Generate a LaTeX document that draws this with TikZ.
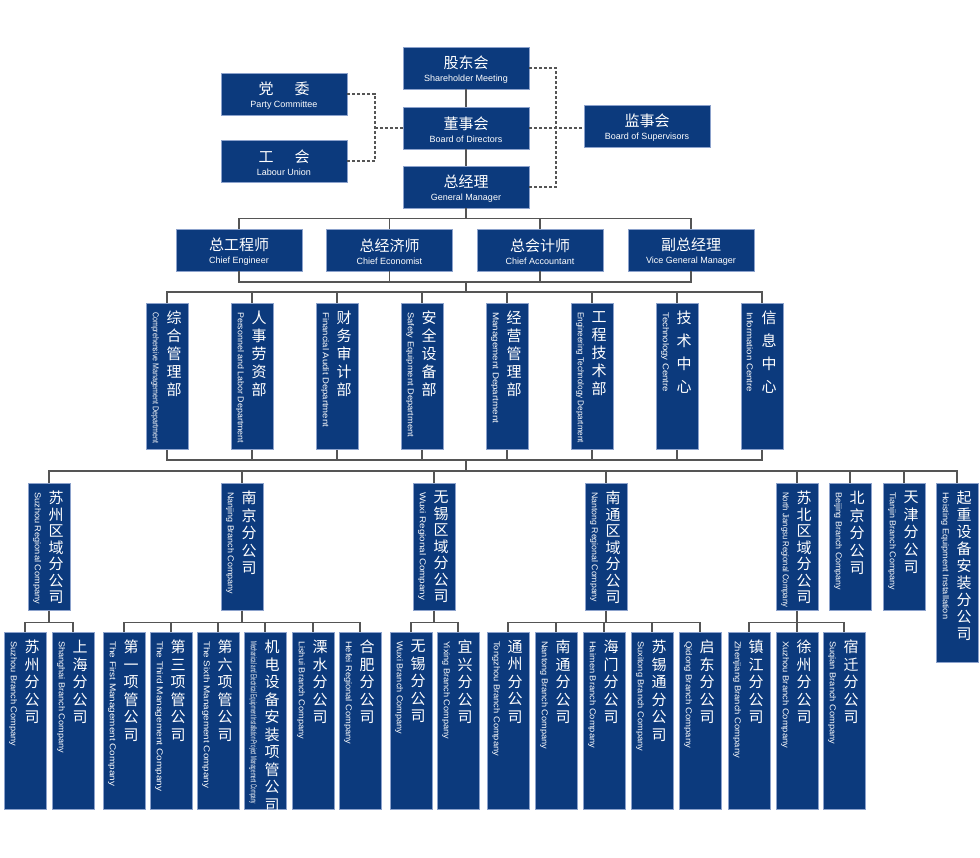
\documentclass[tikz,border=0pt]{standalone}
\usepackage{fontspec}
\usepackage{graphicx}
\setmainfont{Liberation Sans}
\newfontfamily\cjk{Noto Sans CJK SC}
\XeTeXlinebreaklocale "zh"
\XeTeXlinebreakskip=0pt plus 1pt
\usetikzlibrary{calc}

\definecolor{boxblue}{RGB}{12,58,125}
\definecolor{boxedge}{RGB}{140,162,204}
\definecolor{linegray}{RGB}{85,85,85}

\tikzset{
    hcard/.style={draw=boxedge, fill=boxblue, line width=0.8pt, minimum width=126pt, minimum height=42pt,
        inner sep=0pt, text=white, align=center, font=\fontsize{9}{15}\selectfont},
    vcard/.style={draw=boxedge, fill=boxblue, line width=0.8pt, minimum width=42pt, anchor=north, inner sep=0pt},
    cntext/.style={anchor=north, text=white, text width=16pt, align=center, inner sep=0pt},
    entext/.style={anchor=west, rotate=-90, text=white, inner sep=0pt, font=\fontsize{8.5}{9}\selectfont},
    conn/.style={draw=linegray, line width=1.1pt},
    aux/.style={draw=linegray, line width=1.1pt, dash pattern=on 3pt off 2pt}
}

\newcommand\twoline[2]{{\cjk\fontsize{15}{15}\selectfont\rule{0pt}{16pt}#1}\\[-2pt]{#2}}
\newlength\enlen
\newcommand\fitw[2]{\settowidth\enlen{#2}\pgfmathsetmacro\enratio{#1/\enlen}\scalebox{\enratio}[1]{#2}}
% [line skip]{name}{x}{top}{height}{chinese}{english}{english length}
\newcommand\vnode[8][17.5]{%
    \node[vcard, minimum height=#5pt] (#2) at (#3,#4) {};
    \node[cntext, font=\cjk\fontsize{15}{#1}\selectfont] (#2-cn) at ([shift={(7,8)}]#2.north) {#6};
    \node[entext] (#2-en) at ([shift={(-12,9)}]#2.north) {\fitw{#8}{#7}};
}

\begin{document}
\begin{tikzpicture}[x=1pt, y=-1pt]
    \useasboundingbox (0,0) rectangle (980,858);

    % top
    \node[hcard] (sh) at (466,68) {\twoline{股东会}{Shareholder Meeting}};
    \node[hcard] (bd) at (466,128) {\twoline{董事会}{Board of Directors}};
    \node[hcard] (gm) at (466,187) {\twoline{总经理}{General Manager}};
    \node[hcard] (pc) at (284,94) {\twoline{党\hspace{21pt}委}{Party Committee}};
    \node[hcard] (lu) at (284,161) {\twoline{工\hspace{21pt}会}{Labour Union}};
    \node[hcard] (sv) at (647,126) {\twoline{监事会}{Board of Supervisors}};

    \node[hcard] (ce) at (239,250) {\twoline{总工程师}{Chief Engineer}};
    \node[hcard] (ec) at (389.5,250) {\twoline{总经济师}{Chief Economist}};
    \node[hcard] (ca) at (540,250) {\twoline{总会计师}{Chief Accountant}};
    \node[hcard] (vg) at (691,250) {\twoline{副总经理}{Vice General Manager}};

    \draw[conn] (sh) -- (bd);
    \draw[conn] (bd) -- (gm);
    \coordinate (lj) at (375,128);
    \coordinate (rj) at (556,128);
    \draw[aux] (pc.east) -| (lj) |- (lu.east);
    \draw[aux] (lj) -- (bd.west);
    \draw[aux] (sh.east) -| (rj) |- (gm.east);
    \draw[aux] (bd.east) -- (bd.east -| sv.west);

    % departments
    \vnode[18]{d1}{167}{303}{146}{综合管理部}{Comprehensive Management Department}{131}
    \vnode[18]{d2}{252}{303}{146}{人事劳资部}{Personnel and Labor Department}{131}
    \vnode[18]{d3}{337}{303}{146}{财务审计部}{Financial Audit Department}{115}
    \vnode[18]{d4}{422}{303}{146}{安全设备部}{Safety Equipment Department}{125}
    \vnode[18]{d5}{507}{303}{146}{经营管理部}{Management Department}{111}
    \vnode[18]{d6}{592}{303}{146}{工程技术部}{Engineering Technology Department}{131}
    \vnode[23]{d7}{677}{303}{146}{技术中心}{Technology Centre}{80}
    \vnode[23]{d8}{762}{303}{146}{信息中心}{Information Centre}{80}

    % regional companies
    \vnode[16.5]{r1}{49}{483}{127}{苏州区域分公司}{Suzhou Regional Company}{112}
    \vnode{r2}{242}{483}{127}{南京分公司}{Nanjing Branch Company}{102}
    \vnode[16.5]{r3}{434}{483}{127}{无锡区域分公司}{Wuxi Regional Company}{108}
    \vnode[16.5]{r4}{606}{483}{127}{南通区域分公司}{Nantong Regional Company}{110}
    \vnode[16.5]{r5}{797}{483}{127}{苏北区域分公司}{North Jiangsu Regional Company}{115}
    \vnode{r6}{850}{483}{127}{北京分公司}{Beijing Branch Company}{98}
    \vnode{r7}{904}{483}{127}{天津分公司}{Tianjin Branch Company}{98}
    \vnode[17]{r8}{957}{483}{179}{起重设备安装分公司}{Hoisting Equipment Installation}{127}

    % branch companies
    \vnode{s1}{25}{632}{177}{苏州分公司}{Suzhou Branch Company}{105}
    \vnode{s2}{73}{632}{177}{上海分公司}{Shanghai Branch Company}{112}
    \vnode{n1}{124}{632}{177}{第一项管公司}{The First Management Company}{145}
    \vnode{n2}{171}{632}{177}{第三项管公司}{The Third Management Company}{150}
    \vnode{n3}{218}{632}{177}{第六项管公司}{The Sixth Management Company}{147}
    \vnode{n4}{265}{632}{177}{机电设备安装项管公司}{Mechanical and Electrical Equipment Installation Project Management Company}{163}
    \vnode{n5}{313}{632}{177}{溧水分公司}{Lishui Branch Company}{98}
    \vnode{n6}{360}{632}{177}{合肥分公司}{Hefei Regional Company}{103}
    \vnode{w1}{411}{632}{177}{无锡分公司}{Wuxi Branch Company}{93}
    \vnode{w2}{458}{632}{177}{宜兴分公司}{Yixing Branch Company}{98}
    \vnode{t1}{508}{632}{177}{通州分公司}{Tongzhou Branch Company}{115}
    \vnode{t2}{556}{632}{177}{南通分公司}{Nantong Branch Company}{108}
    \vnode{t3}{604}{632}{177}{海门分公司}{Haimen Branch Company}{107}
    \vnode{t4}{652}{632}{177}{苏锡通分公司}{Suxitong Branch Company}{110}
    \vnode{t5}{700}{632}{177}{启东分公司}{Qidong Branch Company}{107}
    \vnode{j1}{749}{632}{177}{镇江分公司}{Zhenjiang Branch Company}{117}
    \vnode{j2}{797}{632}{177}{徐州分公司}{Xuzhou Branch Company}{107}
    \vnode{j3}{844}{632}{177}{宿迁分公司}{Suqian Branch Company}{103}

    % connectors
    \foreach \n in {ce,ec,ca,vg}
        \draw[conn] (gm.south) -- ++(0,10) -| (\n.north);
    \coordinate (b2) at (466,282);
    \coordinate (b3) at (466,292);
    \coordinate (b4) at (466,460);
    \coordinate (b5) at (466,471);
    \foreach \n in {ce,ec,ca,vg}
        \draw[conn] (\n.south) |- (b2);
    \draw[conn] (b2) -- (b3);
    \foreach \n in {d1,d2,d3,d4,d5,d6,d7,d8} {
        \draw[conn] (b3) -| (\n.north);
        \draw[conn] (\n.south) |- (b4);
    }
    \draw[conn] (b4) -- (b5);
    \foreach \n in {r1,r2,r3,r4,r5,r6,r7,r8}
        \draw[conn] (b5) -| (\n.north);
    \foreach \r/\c in {r1/s1,r1/s2,r2/n1,r2/n2,r2/n3,r2/n4,r2/n5,r2/n6,r3/w1,r3/w2,
        r4/t1,r4/t2,r4/t3,r4/t4,r4/t5,r5/j1,r5/j2,r5/j3}
        \draw[conn] (\r.south) -- ++(0,12) -| (\c.north);
\end{tikzpicture}
\end{document}
